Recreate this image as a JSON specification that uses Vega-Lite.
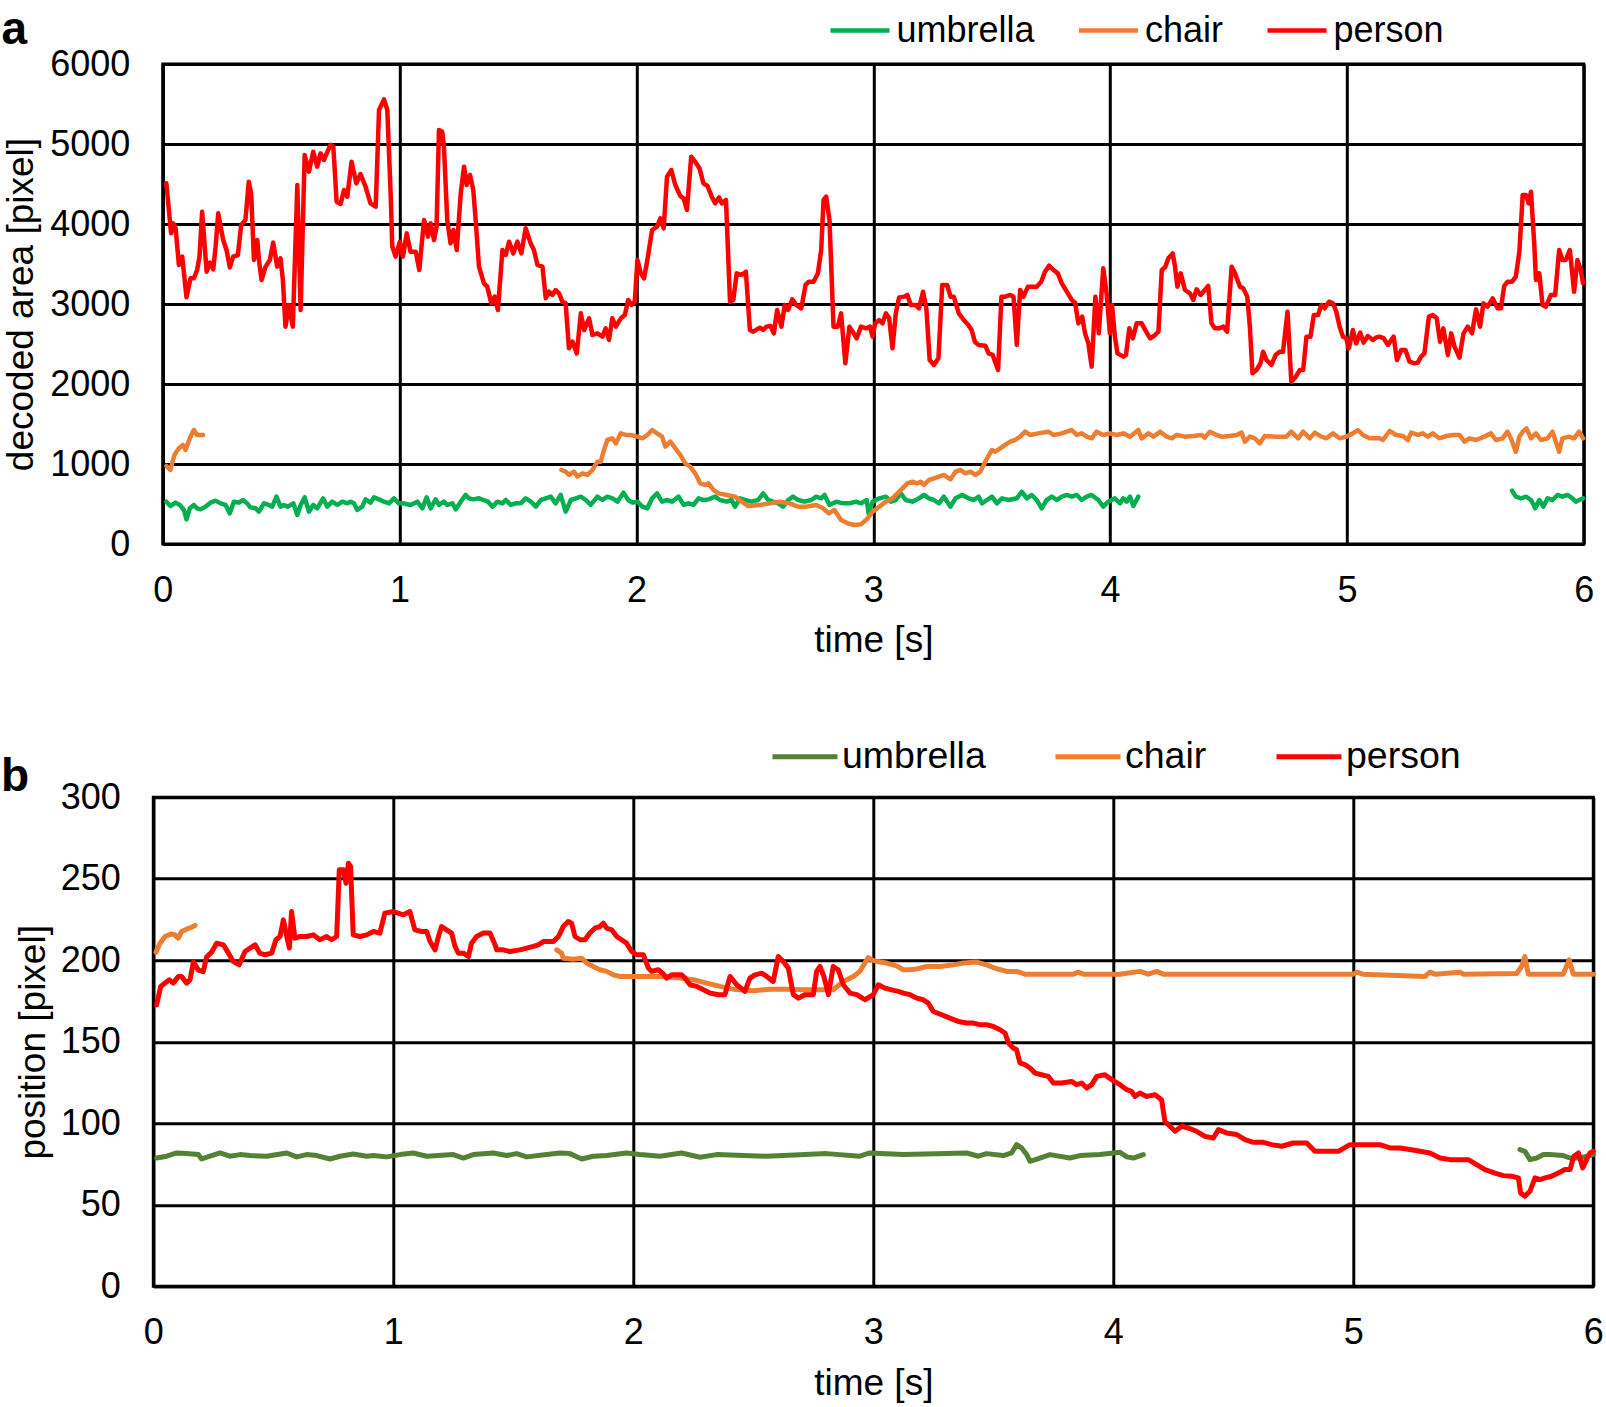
{
"$schema":"https://vega.github.io/schema/vega-lite/v6.json",
"autosize":"none",
"padding":{"left":153.3,"top":64,"right":1452.7,"bottom":1343},
"background":"white",
"config":{
"font":"Liberation Sans",
"view":{"stroke":"black","strokeWidth":3},
"axis":{"labelFont":"Liberation Sans","labelFontSize":36,"labelColor":"black","titleFont":"Liberation Sans","titleFontSize":37,"titleFontWeight":"normal","titleColor":"black","grid":true,"gridColor":"black","gridWidth":3,"gridOpacity":1,"domainColor":"black","domainWidth":3,"ticks":false,"labelFlush":false,"labelOverlap":false},
"legend":{"labelFont":"Liberation Sans","labelFontSize":36,"labelColor":"black","padding":0,"labelLimit":400},
"title":{"font":"Liberation Sans","color":"black"}
},
"datasets":{
"a":[
{"s":"umbrella","g":1,"t":0.015,"v":529},{"s":"umbrella","g":1,"t":0.032,"v":475},{"s":"umbrella","g":1,"t":0.054,"v":517},{"s":"umbrella","g":1,"t":0.072,"v":488},{"s":"umbrella","g":1,"t":0.089,"v":425},{"s":"umbrella","g":1,"t":0.1,"v":308},{"s":"umbrella","g":1,"t":0.114,"v":446},{"s":"umbrella","g":1,"t":0.131,"v":488},{"s":"umbrella","g":1,"t":0.145,"v":446},{"s":"umbrella","g":1,"t":0.159,"v":433},{"s":"umbrella","g":1,"t":0.18,"v":467},{"s":"umbrella","g":1,"t":0.201,"v":517},{"s":"umbrella","g":1,"t":0.223,"v":542},{"s":"umbrella","g":1,"t":0.244,"v":508},{"s":"umbrella","g":1,"t":0.265,"v":488},{"s":"umbrella","g":1,"t":0.283,"v":383},{"s":"umbrella","g":1,"t":0.3,"v":529},{"s":"umbrella","g":1,"t":0.321,"v":517},{"s":"umbrella","g":1,"t":0.339,"v":550},{"s":"umbrella","g":1,"t":0.356,"v":508},{"s":"umbrella","g":1,"t":0.37,"v":458},{"s":"umbrella","g":1,"t":0.392,"v":446},{"s":"umbrella","g":1,"t":0.406,"v":404},{"s":"umbrella","g":1,"t":0.427,"v":508},{"s":"umbrella","g":1,"t":0.448,"v":488},{"s":"umbrella","g":1,"t":0.462,"v":467},{"s":"umbrella","g":1,"t":0.48,"v":592},{"s":"umbrella","g":1,"t":0.497,"v":467},{"s":"umbrella","g":1,"t":0.511,"v":488},{"s":"umbrella","g":1,"t":0.528,"v":467},{"s":"umbrella","g":1,"t":0.551,"v":508},{"s":"umbrella","g":1,"t":0.568,"v":363},{"s":"umbrella","g":1,"t":0.582,"v":488},{"s":"umbrella","g":1,"t":0.599,"v":583},{"s":"umbrella","g":1,"t":0.617,"v":404},{"s":"umbrella","g":1,"t":0.635,"v":488},{"s":"umbrella","g":1,"t":0.652,"v":446},{"s":"umbrella","g":1,"t":0.677,"v":571},{"s":"umbrella","g":1,"t":0.694,"v":467},{"s":"umbrella","g":1,"t":0.715,"v":529},{"s":"umbrella","g":1,"t":0.737,"v":488},{"s":"umbrella","g":1,"t":0.758,"v":529},{"s":"umbrella","g":1,"t":0.779,"v":508},{"s":"umbrella","g":1,"t":0.793,"v":529},{"s":"umbrella","g":1,"t":0.807,"v":508},{"s":"umbrella","g":1,"t":0.821,"v":425},{"s":"umbrella","g":1,"t":0.842,"v":467},{"s":"umbrella","g":1,"t":0.856,"v":558},{"s":"umbrella","g":1,"t":0.877,"v":517},{"s":"umbrella","g":1,"t":0.892,"v":583},{"s":"umbrella","g":1,"t":0.913,"v":558},{"s":"umbrella","g":1,"t":0.934,"v":529},{"s":"umbrella","g":1,"t":0.955,"v":508},{"s":"umbrella","g":1,"t":0.976,"v":571},{"s":"umbrella","g":1,"t":0.997,"v":508},{"s":"umbrella","g":1,"t":1.018,"v":508},{"s":"umbrella","g":1,"t":1.046,"v":488},{"s":"umbrella","g":1,"t":1.075,"v":529},{"s":"umbrella","g":1,"t":1.096,"v":446},{"s":"umbrella","g":1,"t":1.114,"v":583},{"s":"umbrella","g":1,"t":1.131,"v":446},{"s":"umbrella","g":1,"t":1.152,"v":558},{"s":"umbrella","g":1,"t":1.166,"v":488},{"s":"umbrella","g":1,"t":1.187,"v":529},{"s":"umbrella","g":1,"t":1.201,"v":488},{"s":"umbrella","g":1,"t":1.223,"v":508},{"s":"umbrella","g":1,"t":1.237,"v":433},{"s":"umbrella","g":1,"t":1.258,"v":529},{"s":"umbrella","g":1,"t":1.279,"v":613},{"s":"umbrella","g":1,"t":1.293,"v":571},{"s":"umbrella","g":1,"t":1.311,"v":558},{"s":"umbrella","g":1,"t":1.335,"v":571},{"s":"umbrella","g":1,"t":1.354,"v":550},{"s":"umbrella","g":1,"t":1.373,"v":529},{"s":"umbrella","g":1,"t":1.392,"v":467},{"s":"umbrella","g":1,"t":1.413,"v":529},{"s":"umbrella","g":1,"t":1.434,"v":508},{"s":"umbrella","g":1,"t":1.448,"v":550},{"s":"umbrella","g":1,"t":1.469,"v":488},{"s":"umbrella","g":1,"t":1.49,"v":508},{"s":"umbrella","g":1,"t":1.511,"v":508},{"s":"umbrella","g":1,"t":1.532,"v":571},{"s":"umbrella","g":1,"t":1.554,"v":529},{"s":"umbrella","g":1,"t":1.575,"v":467},{"s":"umbrella","g":1,"t":1.596,"v":550},{"s":"umbrella","g":1,"t":1.617,"v":571},{"s":"umbrella","g":1,"t":1.638,"v":592},{"s":"umbrella","g":1,"t":1.659,"v":508},{"s":"umbrella","g":1,"t":1.68,"v":613},{"s":"umbrella","g":1,"t":1.701,"v":404},{"s":"umbrella","g":1,"t":1.723,"v":550},{"s":"umbrella","g":1,"t":1.744,"v":571},{"s":"umbrella","g":1,"t":1.765,"v":592},{"s":"umbrella","g":1,"t":1.786,"v":550},{"s":"umbrella","g":1,"t":1.807,"v":488},{"s":"umbrella","g":1,"t":1.835,"v":592},{"s":"umbrella","g":1,"t":1.856,"v":550},{"s":"umbrella","g":1,"t":1.877,"v":592},{"s":"umbrella","g":1,"t":1.899,"v":571},{"s":"umbrella","g":1,"t":1.92,"v":529},{"s":"umbrella","g":1,"t":1.945,"v":642},{"s":"umbrella","g":1,"t":1.965,"v":550},{"s":"umbrella","g":1,"t":1.983,"v":517},{"s":"umbrella","g":1,"t":2.004,"v":529},{"s":"umbrella","g":1,"t":2.025,"v":467},{"s":"umbrella","g":1,"t":2.046,"v":446},
{"s":"umbrella","g":1,"t":2.066,"v":571},{"s":"umbrella","g":1,"t":2.087,"v":633},{"s":"umbrella","g":1,"t":2.108,"v":529},{"s":"umbrella","g":1,"t":2.129,"v":550},{"s":"umbrella","g":1,"t":2.15,"v":529},{"s":"umbrella","g":1,"t":2.178,"v":592},{"s":"umbrella","g":1,"t":2.199,"v":488},{"s":"umbrella","g":1,"t":2.22,"v":508},{"s":"umbrella","g":1,"t":2.241,"v":488},{"s":"umbrella","g":1,"t":2.262,"v":571},{"s":"umbrella","g":1,"t":2.283,"v":550},{"s":"umbrella","g":1,"t":2.304,"v":558},{"s":"umbrella","g":1,"t":2.332,"v":592},{"s":"umbrella","g":1,"t":2.353,"v":550},{"s":"umbrella","g":1,"t":2.381,"v":529},{"s":"umbrella","g":1,"t":2.402,"v":550},{"s":"umbrella","g":1,"t":2.416,"v":467},{"s":"umbrella","g":1,"t":2.437,"v":571},{"s":"umbrella","g":1,"t":2.458,"v":550},{"s":"umbrella","g":1,"t":2.486,"v":529},{"s":"umbrella","g":1,"t":2.514,"v":550},{"s":"umbrella","g":1,"t":2.535,"v":633},{"s":"umbrella","g":1,"t":2.556,"v":550},{"s":"umbrella","g":1,"t":2.577,"v":529},{"s":"umbrella","g":1,"t":2.598,"v":508},{"s":"umbrella","g":1,"t":2.619,"v":467},{"s":"umbrella","g":1,"t":2.64,"v":550},{"s":"umbrella","g":1,"t":2.661,"v":592},{"s":"umbrella","g":1,"t":2.682,"v":550},{"s":"umbrella","g":1,"t":2.71,"v":529},{"s":"umbrella","g":1,"t":2.738,"v":550},{"s":"umbrella","g":1,"t":2.759,"v":592},{"s":"umbrella","g":1,"t":2.78,"v":571},{"s":"umbrella","g":1,"t":2.794,"v":613},{"s":"umbrella","g":1,"t":2.815,"v":488},{"s":"umbrella","g":1,"t":2.843,"v":529},{"s":"umbrella","g":1,"t":2.871,"v":508},{"s":"umbrella","g":1,"t":2.899,"v":508},{"s":"umbrella","g":1,"t":2.927,"v":529},{"s":"umbrella","g":1,"t":2.948,"v":508},{"s":"umbrella","g":1,"t":2.972,"v":550},{"s":"umbrella","g":1,"t":2.98,"v":383},{"s":"umbrella","g":1,"t":2.997,"v":529},{"s":"umbrella","g":1,"t":3.025,"v":571},{"s":"umbrella","g":1,"t":3.053,"v":592},{"s":"umbrella","g":1,"t":3.074,"v":529},{"s":"umbrella","g":1,"t":3.095,"v":550},{"s":"umbrella","g":1,"t":3.116,"v":633},{"s":"umbrella","g":1,"t":3.137,"v":550},{"s":"umbrella","g":1,"t":3.165,"v":529},{"s":"umbrella","g":1,"t":3.193,"v":571},{"s":"umbrella","g":1,"t":3.214,"v":613},{"s":"umbrella","g":1,"t":3.235,"v":571},{"s":"umbrella","g":1,"t":3.256,"v":550},{"s":"umbrella","g":1,"t":3.277,"v":508},{"s":"umbrella","g":1,"t":3.298,"v":592},{"s":"umbrella","g":1,"t":3.326,"v":467},{"s":"umbrella","g":1,"t":3.347,"v":571},{"s":"umbrella","g":1,"t":3.375,"v":613},{"s":"umbrella","g":1,"t":3.403,"v":571},{"s":"umbrella","g":1,"t":3.424,"v":550},{"s":"umbrella","g":1,"t":3.445,"v":592},{"s":"umbrella","g":1,"t":3.459,"v":508},{"s":"umbrella","g":1,"t":3.48,"v":550},{"s":"umbrella","g":1,"t":3.501,"v":592},{"s":"umbrella","g":1,"t":3.522,"v":508},{"s":"umbrella","g":1,"t":3.543,"v":571},{"s":"umbrella","g":1,"t":3.571,"v":550},{"s":"umbrella","g":1,"t":3.606,"v":571},{"s":"umbrella","g":1,"t":3.627,"v":654},{"s":"umbrella","g":1,"t":3.648,"v":571},{"s":"umbrella","g":1,"t":3.669,"v":613},{"s":"umbrella","g":1,"t":3.69,"v":550},{"s":"umbrella","g":1,"t":3.711,"v":446},{"s":"umbrella","g":1,"t":3.732,"v":550},{"s":"umbrella","g":1,"t":3.754,"v":592},{"s":"umbrella","g":1,"t":3.775,"v":550},{"s":"umbrella","g":1,"t":3.796,"v":592},{"s":"umbrella","g":1,"t":3.817,"v":613},{"s":"umbrella","g":1,"t":3.838,"v":592},{"s":"umbrella","g":1,"t":3.859,"v":613},{"s":"umbrella","g":1,"t":3.88,"v":550},{"s":"umbrella","g":1,"t":3.901,"v":592},{"s":"umbrella","g":1,"t":3.922,"v":613},{"s":"umbrella","g":1,"t":3.95,"v":550},{"s":"umbrella","g":1,"t":3.971,"v":467},{"s":"umbrella","g":1,"t":3.992,"v":529},{"s":"umbrella","g":1,"t":4.02,"v":571},{"s":"umbrella","g":1,"t":4.042,"v":508},{"s":"umbrella","g":1,"t":4.056,"v":571},{"s":"umbrella","g":1,"t":4.07,"v":529},{"s":"umbrella","g":1,"t":4.084,"v":592},{"s":"umbrella","g":1,"t":4.098,"v":475},{"s":"umbrella","g":1,"t":4.119,"v":592},
{"s":"umbrella","g":2,"t":5.697,"v":667},{"s":"umbrella","g":2,"t":5.713,"v":592},{"s":"umbrella","g":2,"t":5.735,"v":571},{"s":"umbrella","g":2,"t":5.756,"v":592},{"s":"umbrella","g":2,"t":5.777,"v":550},{"s":"umbrella","g":2,"t":5.795,"v":446},{"s":"umbrella","g":2,"t":5.812,"v":550},{"s":"umbrella","g":2,"t":5.829,"v":467},{"s":"umbrella","g":2,"t":5.847,"v":571},{"s":"umbrella","g":2,"t":5.868,"v":550},{"s":"umbrella","g":2,"t":5.889,"v":613},{"s":"umbrella","g":2,"t":5.91,"v":592},{"s":"umbrella","g":2,"t":5.931,"v":613},{"s":"umbrella","g":2,"t":5.952,"v":571},{"s":"umbrella","g":2,"t":5.966,"v":529},{"s":"umbrella","g":2,"t":5.98,"v":550},{"s":"umbrella","g":2,"t":5.997,"v":571},
{"s":"chair","g":1,"t":0.015,"v":975},{"s":"chair","g":1,"t":0.032,"v":925},{"s":"chair","g":1,"t":0.049,"v":1112},{"s":"chair","g":1,"t":0.068,"v":1196},{"s":"chair","g":1,"t":0.085,"v":1238},{"s":"chair","g":1,"t":0.096,"v":1175},{"s":"chair","g":1,"t":0.114,"v":1321},{"s":"chair","g":1,"t":0.131,"v":1425},{"s":"chair","g":1,"t":0.145,"v":1363},{"s":"chair","g":1,"t":0.17,"v":1363},
{"s":"chair","g":2,"t":1.683,"v":925},{"s":"chair","g":2,"t":1.701,"v":904},{"s":"chair","g":2,"t":1.715,"v":863},{"s":"chair","g":2,"t":1.736,"v":904},{"s":"chair","g":2,"t":1.751,"v":842},{"s":"chair","g":2,"t":1.772,"v":883},{"s":"chair","g":2,"t":1.793,"v":863},{"s":"chair","g":2,"t":1.814,"v":925},{"s":"chair","g":2,"t":1.835,"v":1029},{"s":"chair","g":2,"t":1.849,"v":1029},{"s":"chair","g":2,"t":1.863,"v":1175},{"s":"chair","g":2,"t":1.877,"v":1300},{"s":"chair","g":2,"t":1.898,"v":1321},{"s":"chair","g":2,"t":1.913,"v":1258},{"s":"chair","g":2,"t":1.934,"v":1383},{"s":"chair","g":2,"t":1.955,"v":1363},{"s":"chair","g":2,"t":1.976,"v":1363},{"s":"chair","g":2,"t":2.004,"v":1342},{"s":"chair","g":2,"t":2.025,"v":1321},{"s":"chair","g":2,"t":2.046,"v":1363},{"s":"chair","g":2,"t":2.066,"v":1425},{"s":"chair","g":2,"t":2.087,"v":1383},{"s":"chair","g":2,"t":2.108,"v":1342},{"s":"chair","g":2,"t":2.122,"v":1217},{"s":"chair","g":2,"t":2.143,"v":1279},{"s":"chair","g":2,"t":2.164,"v":1196},{"s":"chair","g":2,"t":2.185,"v":1113},{"s":"chair","g":2,"t":2.206,"v":1008},{"s":"chair","g":2,"t":2.227,"v":967},{"s":"chair","g":2,"t":2.248,"v":883},{"s":"chair","g":2,"t":2.269,"v":758},{"s":"chair","g":2,"t":2.29,"v":738},{"s":"chair","g":2,"t":2.304,"v":758},{"s":"chair","g":2,"t":2.325,"v":675},{"s":"chair","g":2,"t":2.346,"v":633},{"s":"chair","g":2,"t":2.381,"v":613},{"s":"chair","g":2,"t":2.416,"v":592},{"s":"chair","g":2,"t":2.444,"v":529},{"s":"chair","g":2,"t":2.472,"v":475},{"s":"chair","g":2,"t":2.521,"v":488},{"s":"chair","g":2,"t":2.563,"v":508},{"s":"chair","g":2,"t":2.605,"v":529},{"s":"chair","g":2,"t":2.647,"v":508},{"s":"chair","g":2,"t":2.682,"v":467},{"s":"chair","g":2,"t":2.717,"v":467},{"s":"chair","g":2,"t":2.759,"v":488},{"s":"chair","g":2,"t":2.787,"v":446},{"s":"chair","g":2,"t":2.812,"v":383},{"s":"chair","g":2,"t":2.836,"v":425},{"s":"chair","g":2,"t":2.864,"v":300},{"s":"chair","g":2,"t":2.892,"v":258},{"s":"chair","g":2,"t":2.92,"v":238},{"s":"chair","g":2,"t":2.948,"v":246},{"s":"chair","g":2,"t":2.976,"v":321},{"s":"chair","g":2,"t":2.997,"v":404},{"s":"chair","g":2,"t":3.025,"v":467},{"s":"chair","g":2,"t":3.053,"v":529},{"s":"chair","g":2,"t":3.081,"v":571},{"s":"chair","g":2,"t":3.102,"v":633},{"s":"chair","g":2,"t":3.123,"v":696},{"s":"chair","g":2,"t":3.144,"v":758},{"s":"chair","g":2,"t":3.165,"v":779},{"s":"chair","g":2,"t":3.186,"v":758},{"s":"chair","g":2,"t":3.2,"v":779},{"s":"chair","g":2,"t":3.214,"v":738},{"s":"chair","g":2,"t":3.235,"v":800},{"s":"chair","g":2,"t":3.256,"v":821},{"s":"chair","g":2,"t":3.277,"v":842},{"s":"chair","g":2,"t":3.298,"v":863},{"s":"chair","g":2,"t":3.326,"v":808},{"s":"chair","g":2,"t":3.347,"v":904},{"s":"chair","g":2,"t":3.368,"v":925},{"s":"chair","g":2,"t":3.389,"v":883},{"s":"chair","g":2,"t":3.41,"v":904},{"s":"chair","g":2,"t":3.431,"v":863},{"s":"chair","g":2,"t":3.452,"v":904},{"s":"chair","g":2,"t":3.466,"v":988},{"s":"chair","g":2,"t":3.48,"v":1071},{"s":"chair","g":2,"t":3.501,"v":1175},{"s":"chair","g":2,"t":3.515,"v":1154},{"s":"chair","g":2,"t":3.536,"v":1196},{"s":"chair","g":2,"t":3.557,"v":1238},{"s":"chair","g":2,"t":3.578,"v":1279},{"s":"chair","g":2,"t":3.599,"v":1300},{"s":"chair","g":2,"t":3.62,"v":1342},{"s":"chair","g":2,"t":3.641,"v":1404},{"s":"chair","g":2,"t":3.662,"v":1363},{"s":"chair","g":2,"t":3.697,"v":1383},{"s":"chair","g":2,"t":3.739,"v":1404},{"s":"chair","g":2,"t":3.761,"v":1363},{"s":"chair","g":2,"t":3.796,"v":1383},{"s":"chair","g":2,"t":3.817,"v":1404},{"s":"chair","g":2,"t":3.838,"v":1425},{"s":"chair","g":2,"t":3.859,"v":1363},{"s":"chair","g":2,"t":3.88,"v":1383},{"s":"chair","g":2,"t":3.901,"v":1342},{"s":"chair","g":2,"t":3.922,"v":1321},{"s":"chair","g":2,"t":3.943,"v":1404},{"s":"chair","g":2,"t":3.971,"v":1363},{"s":"chair","g":2,"t":3.999,"v":1383},{"s":"chair","g":2,"t":4.028,"v":1363},{"s":"chair","g":2,"t":4.056,"v":1383},{"s":"chair","g":2,"t":4.084,"v":1342},{"s":"chair","g":2,"t":4.119,"v":1425},{"s":"chair","g":2,"t":4.133,"v":1321},{"s":"chair","g":2,"t":4.162,"v":1383},{"s":"chair","g":2,"t":4.183,"v":1342},{"s":"chair","g":2,"t":4.211,"v":1404},{"s":"chair","g":2,"t":4.239,"v":1342},{"s":"chair","g":2,"t":4.26,"v":1321},{"s":"chair","g":2,"t":4.281,"v":1363},{"s":"chair","g":2,"t":4.316,"v":1342},{"s":"chair","g":2,"t":4.351,"v":1350},{"s":"chair","g":2,"t":4.386,"v":1363},{"s":"chair","g":2,"t":4.4,"v":1329},{"s":"chair","g":2,"t":4.421,"v":1404},{"s":"chair","g":2,"t":4.449,"v":1363},{"s":"chair","g":2,"t":4.471,"v":1342},{"s":"chair","g":2,"t":4.506,"v":1350},{"s":"chair","g":2,"t":4.534,"v":1363},{"s":"chair","g":2,"t":4.555,"v":1392},{"s":"chair","g":2,"t":4.569,"v":1279},{"s":"chair","g":2,"t":4.59,"v":1342},{"s":"chair","g":2,"t":4.611,"v":1321},{"s":"chair","g":2,"t":4.632,"v":1258},{"s":"chair","g":2,"t":4.653,"v":1350},{"s":"chair","g":2,"t":4.702,"v":1342},{"s":"chair","g":2,"t":4.744,"v":1342},{"s":"chair","g":2,"t":4.765,"v":1404},{"s":"chair","g":2,"t":4.794,"v":1321},{"s":"chair","g":2,"t":4.815,"v":1404},{"s":"chair","g":2,"t":4.843,"v":1321},{"s":"chair","g":2,"t":4.864,"v":1392},{"s":"chair","g":2,"t":4.892,"v":1342},{"s":"chair","g":2,"t":4.913,"v":1321},{"s":"chair","g":2,"t":4.941,"v":1383},{"s":"chair","g":2,"t":4.969,"v":1321},{"s":"chair","g":2,"t":4.997,"v":1342},{"s":"chair","g":2,"t":5.025,"v":1383},{"s":"chair","g":2,"t":5.046,"v":1425},{"s":"chair","g":2,"t":5.067,"v":1363},{"s":"chair","g":2,"t":5.096,"v":1321},{"s":"chair","g":2,"t":5.138,"v":1321},{"s":"chair","g":2,"t":5.152,"v":1300},{"s":"chair","g":2,"t":5.18,"v":1413},{"s":"chair","g":2,"t":5.208,"v":1363},{"s":"chair","g":2,"t":5.236,"v":1350},{"s":"chair","g":2,"t":5.257,"v":1300},{"s":"chair","g":2,"t":5.271,"v":1392},{"s":"chair","g":2,"t":5.299,"v":1363},{"s":"chair","g":2,"t":5.32,"v":1383},{"s":"chair","g":2,"t":5.341,"v":1342},{"s":"chair","g":2,"t":5.362,"v":1383},{"s":"chair","g":2,"t":5.39,"v":1321},{"s":"chair","g":2,"t":5.419,"v":1350},{"s":"chair","g":2,"t":5.447,"v":1363},{"s":"chair","g":2,"t":5.475,"v":1363},{"s":"chair","g":2,"t":5.496,"v":1279},{"s":"chair","g":2,"t":5.517,"v":1321},{"s":"chair","g":2,"t":5.545,"v":1300},{"s":"chair","g":2,"t":5.58,"v":1342},{"s":"chair","g":2,"t":5.608,"v":1383},{"s":"chair","g":2,"t":5.629,"v":1300},{"s":"chair","g":2,"t":5.657,"v":1321},{"s":"chair","g":2,"t":5.678,"v":1404},{"s":"chair","g":2,"t":5.692,"v":1321},{"s":"chair","g":2,"t":5.713,"v":1154},{"s":"chair","g":2,"t":5.728,"v":1342},{"s":"chair","g":2,"t":5.742,"v":1404},{"s":"chair","g":2,"t":5.758,"v":1446},{"s":"chair","g":2,"t":5.777,"v":1321},{"s":"chair","g":2,"t":5.798,"v":1383},{"s":"chair","g":2,"t":5.819,"v":1300},{"s":"chair","g":2,"t":5.847,"v":1321},{"s":"chair","g":2,"t":5.868,"v":1404},{"s":"chair","g":2,"t":5.896,"v":1154},{"s":"chair","g":2,"t":5.91,"v":1321},{"s":"chair","g":2,"t":5.938,"v":1342},{"s":"chair","g":2,"t":5.959,"v":1321},{"s":"chair","g":2,"t":5.98,"v":1404},{"s":"chair","g":2,"t":5.997,"v":1321},
{"s":"person","g":1,"t":0.015,"v":4508},{"s":"person","g":1,"t":0.035,"v":3883},{"s":"person","g":1,"t":0.044,"v":4008},{"s":"person","g":1,"t":0.054,"v":3946},{"s":"person","g":1,"t":0.068,"v":3487},{"s":"person","g":1,"t":0.082,"v":3592},{"s":"person","g":1,"t":0.1,"v":3083},{"s":"person","g":1,"t":0.117,"v":3321},{"s":"person","g":1,"t":0.131,"v":3321},{"s":"person","g":1,"t":0.145,"v":3425},{"s":"person","g":1,"t":0.155,"v":3592},{"s":"person","g":1,"t":0.166,"v":4154},{"s":"person","g":1,"t":0.185,"v":3404},{"s":"person","g":1,"t":0.199,"v":3517},{"s":"person","g":1,"t":0.213,"v":3433},{"s":"person","g":1,"t":0.223,"v":3717},{"s":"person","g":1,"t":0.234,"v":4133},{"s":"person","g":1,"t":0.244,"v":3967},{"s":"person","g":1,"t":0.255,"v":3800},{"s":"person","g":1,"t":0.269,"v":3675},{"s":"person","g":1,"t":0.283,"v":3458},{"s":"person","g":1,"t":0.297,"v":3592},{"s":"person","g":1,"t":0.317,"v":3612},{"s":"person","g":1,"t":0.331,"v":3988},{"s":"person","g":1,"t":0.349,"v":4050},{"s":"person","g":1,"t":0.363,"v":4529},{"s":"person","g":1,"t":0.373,"v":4383},{"s":"person","g":1,"t":0.385,"v":3550},{"s":"person","g":1,"t":0.399,"v":3800},{"s":"person","g":1,"t":0.406,"v":3550},{"s":"person","g":1,"t":0.417,"v":3300},{"s":"person","g":1,"t":0.434,"v":3467},{"s":"person","g":1,"t":0.452,"v":3550},{"s":"person","g":1,"t":0.466,"v":3767},{"s":"person","g":1,"t":0.483,"v":3467},{"s":"person","g":1,"t":0.497,"v":3571},{"s":"person","g":1,"t":0.507,"v":3300},{"s":"person","g":1,"t":0.518,"v":2717},{"s":"person","g":1,"t":0.532,"v":2987},{"s":"person","g":1,"t":0.549,"v":2717},{"s":"person","g":1,"t":0.568,"v":4488},{"s":"person","g":1,"t":0.582,"v":2925},{"s":"person","g":1,"t":0.599,"v":4863},{"s":"person","g":1,"t":0.617,"v":4654},{"s":"person","g":1,"t":0.635,"v":4904},{"s":"person","g":1,"t":0.652,"v":4717},{"s":"person","g":1,"t":0.666,"v":4883},{"s":"person","g":1,"t":0.68,"v":4800},{"s":"person","g":1,"t":0.708,"v":4988},{"s":"person","g":1,"t":0.72,"v":4967},{"s":"person","g":1,"t":0.734,"v":4279},{"s":"person","g":1,"t":0.751,"v":4250},{"s":"person","g":1,"t":0.765,"v":4425},{"s":"person","g":1,"t":0.779,"v":4342},{"s":"person","g":1,"t":0.797,"v":4779},{"s":"person","g":1,"t":0.817,"v":4508},{"s":"person","g":1,"t":0.835,"v":4625},{"s":"person","g":1,"t":0.856,"v":4467},{"s":"person","g":1,"t":0.877,"v":4258},{"s":"person","g":1,"t":0.899,"v":4217},{"s":"person","g":1,"t":0.913,"v":5425},{"s":"person","g":1,"t":0.934,"v":5558},{"s":"person","g":1,"t":0.948,"v":5425},{"s":"person","g":1,"t":0.962,"v":4383},{"s":"person","g":1,"t":0.969,"v":3717},{"s":"person","g":1,"t":0.983,"v":3592},{"s":"person","g":1,"t":1.001,"v":3779},{"s":"person","g":1,"t":1.014,"v":3592},{"s":"person","g":1,"t":1.03,"v":3883},{"s":"person","g":1,"t":1.046,"v":3654},{"s":"person","g":1,"t":1.068,"v":3654},{"s":"person","g":1,"t":1.083,"v":3425},{"s":"person","g":1,"t":1.103,"v":4050},{"s":"person","g":1,"t":1.12,"v":3842},{"s":"person","g":1,"t":1.131,"v":4008},{"s":"person","g":1,"t":1.145,"v":3800},{"s":"person","g":1,"t":1.156,"v":3967},{"s":"person","g":1,"t":1.166,"v":5175},{"s":"person","g":1,"t":1.18,"v":5154},{"s":"person","g":1,"t":1.187,"v":4967},{"s":"person","g":1,"t":1.201,"v":4050},{"s":"person","g":1,"t":1.215,"v":3758},{"s":"person","g":1,"t":1.227,"v":3925},{"s":"person","g":1,"t":1.241,"v":3675},{"s":"person","g":1,"t":1.258,"v":4383},{"s":"person","g":1,"t":1.272,"v":4717},{"s":"person","g":1,"t":1.283,"v":4488},{"s":"person","g":1,"t":1.297,"v":4613},{"s":"person","g":1,"t":1.311,"v":4425},{"s":"person","g":1,"t":1.321,"v":4050},{"s":"person","g":1,"t":1.335,"v":3467},{"s":"person","g":1,"t":1.356,"v":3258},{"s":"person","g":1,"t":1.37,"v":3217},{"s":"person","g":1,"t":1.387,"v":3008},{"s":"person","g":1,"t":1.401,"v":3092},{"s":"person","g":1,"t":1.415,"v":2925},{"s":"person","g":1,"t":1.434,"v":3675},{"s":"person","g":1,"t":1.448,"v":3612},{"s":"person","g":1,"t":1.462,"v":3779},{"s":"person","g":1,"t":1.48,"v":3633},{"s":"person","g":1,"t":1.497,"v":3779},{"s":"person","g":1,"t":1.514,"v":3633},{"s":"person","g":1,"t":1.532,"v":3946},{"s":"person","g":1,"t":1.553,"v":3758},{"s":"person","g":1,"t":1.567,"v":3675},{"s":"person","g":1,"t":1.582,"v":3488},{"s":"person","g":1,"t":1.603,"v":3467},{"s":"person","g":1,"t":1.617,"v":3071},{"s":"person","g":1,"t":1.631,"v":3154},{"s":"person","g":1,"t":1.645,"v":3113},{"s":"person","g":1,"t":1.659,"v":3175},{"s":"person","g":1,"t":1.673,"v":3133},{"s":"person","g":1,"t":1.687,"v":3029},{"s":"person","g":1,"t":1.701,"v":3008},{"s":"person","g":1,"t":1.715,"v":2446},{"s":"person","g":1,"t":1.73,"v":2529},{"s":"person","g":1,"t":1.748,"v":2383},{"s":"person","g":1,"t":1.765,"v":2883},{"s":"person","g":1,"t":1.779,"v":2675},{"s":"person","g":1,"t":1.8,"v":2821},{"s":"person","g":1,"t":1.814,"v":2613},{"s":"person","g":1,"t":1.835,"v":2633},{"s":"person","g":1,"t":1.856,"v":2592},{"s":"person","g":1,"t":1.87,"v":2696},{"s":"person","g":1,"t":1.884,"v":2550},{"s":"person","g":1,"t":1.898,"v":2821},{"s":"person","g":1,"t":1.913,"v":2717},{"s":"person","g":1,"t":1.934,"v":2821},{"s":"person","g":1,"t":1.951,"v":2863},{"s":"person","g":1,"t":1.965,"v":3050},{"s":"person","g":1,"t":1.979,"v":2988},{"s":"person","g":1,"t":1.993,"v":3029},{"s":"person","g":1,"t":2.004,"v":3550},{"s":"person","g":1,"t":2.018,"v":3383},{"s":"person","g":1,"t":2.032,"v":3321},{"s":"person","g":1,"t":2.046,"v":3550},{"s":"person","g":1,"t":2.066,"v":3925},{"s":"person","g":1,"t":2.087,"v":3967},{"s":"person","g":1,"t":2.101,"v":4071},{"s":"person","g":1,"t":2.115,"v":3946},{"s":"person","g":1,"t":2.129,"v":4592},{"s":"person","g":1,"t":2.147,"v":4675},{"s":"person","g":1,"t":2.164,"v":4488},{"s":"person","g":1,"t":2.185,"v":4350},{"s":"person","g":1,"t":2.199,"v":4321},{"s":"person","g":1,"t":2.213,"v":4175},{"s":"person","g":1,"t":2.231,"v":4842},{"s":"person","g":1,"t":2.248,"v":4779},{"s":"person","g":1,"t":2.266,"v":4696},{"s":"person","g":1,"t":2.283,"v":4508},{"s":"person","g":1,"t":2.3,"v":4475},{"s":"person","g":1,"t":2.318,"v":4342},{"s":"person","g":1,"t":2.332,"v":4258},{"s":"person","g":1,"t":2.349,"v":4333},{"s":"person","g":1,"t":2.36,"v":4258},{"s":"person","g":1,"t":2.378,"v":4300},{"s":"person","g":1,"t":2.395,"v":3029},{"s":"person","g":1,"t":2.409,"v":3050},{"s":"person","g":1,"t":2.423,"v":3383},{"s":"person","g":1,"t":2.444,"v":3363},{"s":"person","g":1,"t":2.462,"v":3404},{"s":"person","g":1,"t":2.479,"v":2675},{"s":"person","g":1,"t":2.493,"v":2654},{"s":"person","g":1,"t":2.521,"v":2704},{"s":"person","g":1,"t":2.535,"v":2675},{"s":"person","g":1,"t":2.549,"v":2717},{"s":"person","g":1,"t":2.566,"v":2725},{"s":"person","g":1,"t":2.58,"v":2633},{"s":"person","g":1,"t":2.594,"v":2925},{"s":"person","g":1,"t":2.612,"v":2717},{"s":"person","g":1,"t":2.626,"v":2988},{"s":"person","g":1,"t":2.64,"v":2925},{"s":"person","g":1,"t":2.658,"v":3058},{"s":"person","g":1,"t":2.675,"v":2988},{"s":"person","g":1,"t":2.696,"v":2946},{"s":"person","g":1,"t":2.714,"v":3238},{"s":"person","g":1,"t":2.728,"v":3279},{"s":"person","g":1,"t":2.748,"v":3279},{"s":"person","g":1,"t":2.766,"v":3383},{"s":"person","g":1,"t":2.78,"v":3675},{"s":"person","g":1,"t":2.79,"v":4300},{"s":"person","g":1,"t":2.801,"v":4342},{"s":"person","g":1,"t":2.815,"v":4050},{"s":"person","g":1,"t":2.832,"v":2717},{"s":"person","g":1,"t":2.85,"v":2717},{"s":"person","g":1,"t":2.864,"v":2883},{"s":"person","g":1,"t":2.882,"v":2258},{"s":"person","g":1,"t":2.899,"v":2717},{"s":"person","g":1,"t":2.913,"v":2654},{"s":"person","g":1,"t":2.93,"v":2571},{"s":"person","g":1,"t":2.948,"v":2717},{"s":"person","g":1,"t":2.969,"v":2696},{"s":"person","g":1,"t":2.986,"v":2717},{"s":"person","g":1,"t":2.997,"v":2592},{"s":"person","g":1,"t":3.008,"v":2758},{"s":"person","g":1,"t":3.025,"v":2800},{"s":"person","g":1,"t":3.039,"v":2758},{"s":"person","g":1,"t":3.053,"v":2883},{"s":"person","g":1,"t":3.067,"v":2821},{"s":"person","g":1,"t":3.081,"v":2446},{"s":"person","g":1,"t":3.095,"v":2883},{"s":"person","g":1,"t":3.109,"v":3083},{"s":"person","g":1,"t":3.13,"v":3092},{"s":"person","g":1,"t":3.144,"v":3113},{"s":"person","g":1,"t":3.158,"v":2988},{"s":"person","g":1,"t":3.179,"v":2988},{"s":"person","g":1,"t":3.193,"v":2946},{"s":"person","g":1,"t":3.21,"v":3154},{"s":"person","g":1,"t":3.224,"v":2946},{"s":"person","g":1,"t":3.238,"v":2300},{"s":"person","g":1,"t":3.256,"v":2238},{"s":"person","g":1,"t":3.275,"v":2321},{"s":"person","g":1,"t":3.291,"v":3238},{"s":"person","g":1,"t":3.312,"v":3238},{"s":"person","g":1,"t":3.326,"v":3092},{"s":"person","g":1,"t":3.34,"v":3092},{"s":"person","g":1,"t":3.361,"v":2883},{"s":"person","g":1,"t":3.382,"v":2800},{"s":"person","g":1,"t":3.401,"v":2738},{"s":"person","g":1,"t":3.415,"v":2675},{"s":"person","g":1,"t":3.429,"v":2529},{"s":"person","g":1,"t":3.445,"v":2488},{"s":"person","g":1,"t":3.473,"v":2479},{"s":"person","g":1,"t":3.487,"v":2383},{"s":"person","g":1,"t":3.504,"v":2363},{"s":"person","g":1,"t":3.527,"v":2175},{"s":"person","g":1,"t":3.541,"v":3092},{"s":"person","g":1,"t":3.557,"v":3092},{"s":"person","g":1,"t":3.578,"v":3113},{"s":"person","g":1,"t":3.592,"v":3092},{"s":"person","g":1,"t":3.606,"v":2488},{"s":"person","g":1,"t":3.62,"v":3175},{"s":"person","g":1,"t":3.634,"v":3092},{"s":"person","g":1,"t":3.653,"v":3217},{"s":"person","g":1,"t":3.669,"v":3217},{"s":"person","g":1,"t":3.69,"v":3217},{"s":"person","g":1,"t":3.709,"v":3279},{"s":"person","g":1,"t":3.725,"v":3404},{"s":"person","g":1,"t":3.742,"v":3479},{"s":"person","g":1,"t":3.761,"v":3425},{"s":"person","g":1,"t":3.779,"v":3383},{"s":"person","g":1,"t":3.796,"v":3258},{"s":"person","g":1,"t":3.817,"v":3154},{"s":"person","g":1,"t":3.838,"v":3050},{"s":"person","g":1,"t":3.852,"v":3017},{"s":"person","g":1,"t":3.866,"v":2758},{"s":"person","g":1,"t":3.882,"v":2842},{"s":"person","g":1,"t":3.894,"v":2633},{"s":"person","g":1,"t":3.908,"v":2508},{"s":"person","g":1,"t":3.922,"v":2217},{"s":"person","g":1,"t":3.938,"v":3092},{"s":"person","g":1,"t":3.952,"v":2633},{"s":"person","g":1,"t":3.971,"v":3446},{"s":"person","g":1,"t":3.985,"v":3133},{"s":"person","g":1,"t":3.999,"v":2633},{"s":"person","g":1,"t":4.008,"v":2988},{"s":"person","g":1,"t":4.02,"v":2592},{"s":"person","g":1,"t":4.031,"v":2383},{"s":"person","g":1,"t":4.056,"v":2342},{"s":"person","g":1,"t":4.067,"v":2363},{"s":"person","g":1,"t":4.081,"v":2696},{"s":"person","g":1,"t":4.096,"v":2571},{"s":"person","g":1,"t":4.112,"v":2758},{"s":"person","g":1,"t":4.133,"v":2758},{"s":"person","g":1,"t":4.152,"v":2654},{"s":"person","g":1,"t":4.169,"v":2571},{"s":"person","g":1,"t":4.185,"v":2600},{"s":"person","g":1,"t":4.204,"v":2654},{"s":"person","g":1,"t":4.218,"v":3425},{"s":"person","g":1,"t":4.232,"v":3458},{"s":"person","g":1,"t":4.246,"v":3571},{"s":"person","g":1,"t":4.264,"v":3633},{"s":"person","g":1,"t":4.274,"v":3467},{"s":"person","g":1,"t":4.284,"v":3217},{"s":"person","g":1,"t":4.298,"v":3383},{"s":"person","g":1,"t":4.316,"v":3175},{"s":"person","g":1,"t":4.337,"v":3133},{"s":"person","g":1,"t":4.351,"v":3050},{"s":"person","g":1,"t":4.365,"v":3183},{"s":"person","g":1,"t":4.382,"v":3113},{"s":"person","g":1,"t":4.4,"v":3175},{"s":"person","g":1,"t":4.414,"v":3225},{"s":"person","g":1,"t":4.428,"v":2758},{"s":"person","g":1,"t":4.442,"v":2696},{"s":"person","g":1,"t":4.463,"v":2696},{"s":"person","g":1,"t":4.478,"v":2717},{"s":"person","g":1,"t":4.494,"v":2654},{"s":"person","g":1,"t":4.513,"v":3467},{"s":"person","g":1,"t":4.527,"v":3383},{"s":"person","g":1,"t":4.548,"v":3217},{"s":"person","g":1,"t":4.562,"v":3196},{"s":"person","g":1,"t":4.579,"v":3092},{"s":"person","g":1,"t":4.59,"v":2717},{"s":"person","g":1,"t":4.601,"v":2133},{"s":"person","g":1,"t":4.618,"v":2175},{"s":"person","g":1,"t":4.635,"v":2258},{"s":"person","g":1,"t":4.646,"v":2404},{"s":"person","g":1,"t":4.66,"v":2300},{"s":"person","g":1,"t":4.681,"v":2238},{"s":"person","g":1,"t":4.699,"v":2363},{"s":"person","g":1,"t":4.716,"v":2404},{"s":"person","g":1,"t":4.73,"v":2404},{"s":"person","g":1,"t":4.749,"v":2904},{"s":"person","g":1,"t":4.765,"v":2029},{"s":"person","g":1,"t":4.784,"v":2092},{"s":"person","g":1,"t":4.801,"v":2175},{"s":"person","g":1,"t":4.815,"v":2175},{"s":"person","g":1,"t":4.829,"v":2592},{"s":"person","g":1,"t":4.846,"v":2592},{"s":"person","g":1,"t":4.86,"v":2863},{"s":"person","g":1,"t":4.878,"v":2863},{"s":"person","g":1,"t":4.892,"v":2988},{"s":"person","g":1,"t":4.906,"v":2946},{"s":"person","g":1,"t":4.924,"v":3029},{"s":"person","g":1,"t":4.941,"v":3008},{"s":"person","g":1,"t":4.955,"v":2904},{"s":"person","g":1,"t":4.969,"v":2717},{"s":"person","g":1,"t":4.983,"v":2592},{"s":"person","g":1,"t":4.997,"v":2571},{"s":"person","g":1,"t":5.008,"v":2446},{"s":"person","g":1,"t":5.025,"v":2675},{"s":"person","g":1,"t":5.039,"v":2508},{"s":"person","g":1,"t":5.056,"v":2642},{"s":"person","g":1,"t":5.07,"v":2517},{"s":"person","g":1,"t":5.088,"v":2600},{"s":"person","g":1,"t":5.11,"v":2550},{"s":"person","g":1,"t":5.124,"v":2583},{"s":"person","g":1,"t":5.138,"v":2592},{"s":"person","g":1,"t":5.155,"v":2571},{"s":"person","g":1,"t":5.173,"v":2488},{"s":"person","g":1,"t":5.187,"v":2550},{"s":"person","g":1,"t":5.197,"v":2592},{"s":"person","g":1,"t":5.211,"v":2300},{"s":"person","g":1,"t":5.229,"v":2425},{"s":"person","g":1,"t":5.247,"v":2425},{"s":"person","g":1,"t":5.264,"v":2279},{"s":"person","g":1,"t":5.285,"v":2258},{"s":"person","g":1,"t":5.299,"v":2267},{"s":"person","g":1,"t":5.313,"v":2342},{"s":"person","g":1,"t":5.327,"v":2383},{"s":"person","g":1,"t":5.346,"v":2842},{"s":"person","g":1,"t":5.362,"v":2863},{"s":"person","g":1,"t":5.379,"v":2821},{"s":"person","g":1,"t":5.393,"v":2529},{"s":"person","g":1,"t":5.407,"v":2696},{"s":"person","g":1,"t":5.426,"v":2363},{"s":"person","g":1,"t":5.44,"v":2633},{"s":"person","g":1,"t":5.454,"v":2467},{"s":"person","g":1,"t":5.475,"v":2329},{"s":"person","g":1,"t":5.492,"v":2633},{"s":"person","g":1,"t":5.51,"v":2717},{"s":"person","g":1,"t":5.528,"v":2633},{"s":"person","g":1,"t":5.545,"v":2933},{"s":"person","g":1,"t":5.562,"v":2717},{"s":"person","g":1,"t":5.576,"v":3008},{"s":"person","g":1,"t":5.594,"v":2967},{"s":"person","g":1,"t":5.615,"v":3071},{"s":"person","g":1,"t":5.636,"v":2946},{"s":"person","g":1,"t":5.65,"v":2946},{"s":"person","g":1,"t":5.664,"v":3225},{"s":"person","g":1,"t":5.678,"v":3279},{"s":"person","g":1,"t":5.697,"v":3279},{"s":"person","g":1,"t":5.713,"v":3342},{"s":"person","g":1,"t":5.728,"v":3654},{"s":"person","g":1,"t":5.742,"v":4363},{"s":"person","g":1,"t":5.756,"v":4363},{"s":"person","g":1,"t":5.767,"v":4258},{"s":"person","g":1,"t":5.777,"v":4404},{"s":"person","g":1,"t":5.791,"v":3738},{"s":"person","g":1,"t":5.798,"v":3300},{"s":"person","g":1,"t":5.812,"v":3383},{"s":"person","g":1,"t":5.826,"v":2988},{"s":"person","g":1,"t":5.84,"v":2967},{"s":"person","g":1,"t":5.861,"v":3113},{"s":"person","g":1,"t":5.879,"v":3113},{"s":"person","g":1,"t":5.896,"v":3675},{"s":"person","g":1,"t":5.91,"v":3550},{"s":"person","g":1,"t":5.924,"v":3550},{"s":"person","g":1,"t":5.941,"v":3675},{"s":"person","g":1,"t":5.959,"v":3154},{"s":"person","g":1,"t":5.973,"v":3550},{"s":"person","g":1,"t":5.987,"v":3425},{"s":"person","g":1,"t":5.997,"v":3258}
],
"b":[
{"s":"umbrella","g":1,"t":0.014,"v":78.7},{"s":"umbrella","g":1,"t":0.056,"v":79.8},{"s":"umbrella","g":1,"t":0.097,"v":81.8},{"s":"umbrella","g":1,"t":0.139,"v":81.4},{"s":"umbrella","g":1,"t":0.188,"v":80.8},{"s":"umbrella","g":1,"t":0.201,"v":78.1},{"s":"umbrella","g":1,"t":0.278,"v":81.8},{"s":"umbrella","g":1,"t":0.319,"v":79.8},{"s":"umbrella","g":1,"t":0.361,"v":80.8},{"s":"umbrella","g":1,"t":0.403,"v":80.2},{"s":"umbrella","g":1,"t":0.472,"v":79.8},{"s":"umbrella","g":1,"t":0.556,"v":81.8},{"s":"umbrella","g":1,"t":0.597,"v":79.4},{"s":"umbrella","g":1,"t":0.639,"v":80.8},{"s":"umbrella","g":1,"t":0.681,"v":80.2},{"s":"umbrella","g":1,"t":0.736,"v":78.1},{"s":"umbrella","g":1,"t":0.778,"v":79.8},{"s":"umbrella","g":1,"t":0.833,"v":81.2},{"s":"umbrella","g":1,"t":0.889,"v":79.8},{"s":"umbrella","g":1,"t":0.917,"v":80.2},{"s":"umbrella","g":1,"t":0.972,"v":79.4},{"s":"umbrella","g":1,"t":1.028,"v":80.8},{"s":"umbrella","g":1,"t":1.083,"v":81.8},{"s":"umbrella","g":1,"t":1.139,"v":79.8},{"s":"umbrella","g":1,"t":1.25,"v":80.8},{"s":"umbrella","g":1,"t":1.292,"v":78.7},{"s":"umbrella","g":1,"t":1.333,"v":80.8},{"s":"umbrella","g":1,"t":1.417,"v":81.8},{"s":"umbrella","g":1,"t":1.472,"v":80.2},{"s":"umbrella","g":1,"t":1.514,"v":81.4},{"s":"umbrella","g":1,"t":1.556,"v":79.4},{"s":"umbrella","g":1,"t":1.639,"v":80.8},{"s":"umbrella","g":1,"t":1.694,"v":81.8},{"s":"umbrella","g":1,"t":1.736,"v":81.4},{"s":"umbrella","g":1,"t":1.785,"v":78.1},{"s":"umbrella","g":1,"t":1.833,"v":79.8},{"s":"umbrella","g":1,"t":1.889,"v":80.2},{"s":"umbrella","g":1,"t":1.972,"v":81.8},{"s":"umbrella","g":1,"t":2.028,"v":80.8},{"s":"umbrella","g":1,"t":2.111,"v":79.8},{"s":"umbrella","g":1,"t":2.201,"v":81.8},{"s":"umbrella","g":1,"t":2.278,"v":79.2},{"s":"umbrella","g":1,"t":2.347,"v":80.8},{"s":"umbrella","g":1,"t":2.556,"v":79.8},{"s":"umbrella","g":1,"t":2.806,"v":81.4},{"s":"umbrella","g":1,"t":2.944,"v":79.8},{"s":"umbrella","g":1,"t":2.986,"v":81.8},{"s":"umbrella","g":1,"t":3.125,"v":80.8},{"s":"umbrella","g":1,"t":3.306,"v":81.4},{"s":"umbrella","g":1,"t":3.389,"v":81.8},{"s":"umbrella","g":1,"t":3.438,"v":79.8},{"s":"umbrella","g":1,"t":3.472,"v":81.4},{"s":"umbrella","g":1,"t":3.542,"v":80.2},{"s":"umbrella","g":1,"t":3.576,"v":81.8},{"s":"umbrella","g":1,"t":3.597,"v":86.9},{"s":"umbrella","g":1,"t":3.618,"v":84.9},{"s":"umbrella","g":1,"t":3.639,"v":80.8},{"s":"umbrella","g":1,"t":3.653,"v":76.7},{"s":"umbrella","g":1,"t":3.694,"v":78.7},{"s":"umbrella","g":1,"t":3.736,"v":80.8},{"s":"umbrella","g":1,"t":3.819,"v":78.7},{"s":"umbrella","g":1,"t":3.861,"v":80.2},{"s":"umbrella","g":1,"t":3.944,"v":80.8},{"s":"umbrella","g":1,"t":4.028,"v":82.2},{"s":"umbrella","g":1,"t":4.056,"v":79.4},{"s":"umbrella","g":1,"t":4.083,"v":78.7},{"s":"umbrella","g":1,"t":4.125,"v":80.8},
{"s":"umbrella","g":2,"t":5.694,"v":83.9},{"s":"umbrella","g":2,"t":5.715,"v":82.8},{"s":"umbrella","g":2,"t":5.736,"v":77.7},{"s":"umbrella","g":2,"t":5.764,"v":78.7},{"s":"umbrella","g":2,"t":5.792,"v":80.8},{"s":"umbrella","g":2,"t":5.819,"v":80.8},{"s":"umbrella","g":2,"t":5.875,"v":80.2},{"s":"umbrella","g":2,"t":5.903,"v":78.7},{"s":"umbrella","g":2,"t":5.944,"v":78.7},{"s":"umbrella","g":2,"t":6.0,"v":80.8},
{"s":"chair","g":1,"t":0.011,"v":205},{"s":"chair","g":1,"t":0.028,"v":210.5},{"s":"chair","g":1,"t":0.049,"v":214.6},{"s":"chair","g":1,"t":0.076,"v":216.2},{"s":"chair","g":1,"t":0.09,"v":215.6},{"s":"chair","g":1,"t":0.104,"v":213.6},{"s":"chair","g":1,"t":0.118,"v":217.7},{"s":"chair","g":1,"t":0.139,"v":219.1},{"s":"chair","g":1,"t":0.16,"v":220.3},{"s":"chair","g":1,"t":0.174,"v":221.4},
{"s":"chair","g":2,"t":1.681,"v":206.4},{"s":"chair","g":2,"t":1.701,"v":204.4},{"s":"chair","g":2,"t":1.708,"v":201.3},{"s":"chair","g":2,"t":1.75,"v":200.7},{"s":"chair","g":2,"t":1.785,"v":201.3},{"s":"chair","g":2,"t":1.806,"v":198.3},{"s":"chair","g":2,"t":1.833,"v":196.2},{"s":"chair","g":2,"t":1.861,"v":194.2},{"s":"chair","g":2,"t":1.889,"v":193.2},{"s":"chair","g":2,"t":1.917,"v":191.1},{"s":"chair","g":2,"t":1.944,"v":190.1},{"s":"chair","g":2,"t":1.986,"v":190.1},{"s":"chair","g":2,"t":2.028,"v":190.1},{"s":"chair","g":2,"t":2.125,"v":190.1},{"s":"chair","g":2,"t":2.194,"v":189.1},{"s":"chair","g":2,"t":2.25,"v":188.1},{"s":"chair","g":2,"t":2.306,"v":186},{"s":"chair","g":2,"t":2.361,"v":184},{"s":"chair","g":2,"t":2.417,"v":182.3},{"s":"chair","g":2,"t":2.5,"v":181.3},{"s":"chair","g":2,"t":2.569,"v":182.3},{"s":"chair","g":2,"t":2.639,"v":182.3},{"s":"chair","g":2,"t":2.708,"v":181.9},{"s":"chair","g":2,"t":2.778,"v":181.9},{"s":"chair","g":2,"t":2.833,"v":181.9},{"s":"chair","g":2,"t":2.875,"v":187},{"s":"chair","g":2,"t":2.917,"v":190.1},{"s":"chair","g":2,"t":2.944,"v":193.2},{"s":"chair","g":2,"t":2.965,"v":198.3},{"s":"chair","g":2,"t":2.979,"v":201.7},{"s":"chair","g":2,"t":2.993,"v":200.3},{"s":"chair","g":2,"t":3.014,"v":199.3},{"s":"chair","g":2,"t":3.056,"v":198.3},{"s":"chair","g":2,"t":3.097,"v":196.6},{"s":"chair","g":2,"t":3.125,"v":194.2},{"s":"chair","g":2,"t":3.153,"v":194.2},{"s":"chair","g":2,"t":3.181,"v":194.6},{"s":"chair","g":2,"t":3.222,"v":196.2},{"s":"chair","g":2,"t":3.278,"v":196.2},{"s":"chair","g":2,"t":3.333,"v":197.2},{"s":"chair","g":2,"t":3.375,"v":198.3},{"s":"chair","g":2,"t":3.431,"v":198.9},{"s":"chair","g":2,"t":3.472,"v":197.2},{"s":"chair","g":2,"t":3.514,"v":194.8},{"s":"chair","g":2,"t":3.556,"v":193.2},{"s":"chair","g":2,"t":3.597,"v":193.2},{"s":"chair","g":2,"t":3.632,"v":191.5},{"s":"chair","g":2,"t":3.708,"v":191.5},{"s":"chair","g":2,"t":3.833,"v":191.5},{"s":"chair","g":2,"t":3.854,"v":192.7},{"s":"chair","g":2,"t":3.875,"v":191.5},{"s":"chair","g":2,"t":4.028,"v":191.5},{"s":"chair","g":2,"t":4.111,"v":193.2},{"s":"chair","g":2,"t":4.146,"v":191.5},{"s":"chair","g":2,"t":4.181,"v":193.2},{"s":"chair","g":2,"t":4.208,"v":191.5},{"s":"chair","g":2,"t":5.0,"v":191.5},{"s":"chair","g":2,"t":5.014,"v":192.7},{"s":"chair","g":2,"t":5.04,"v":191.5},{"s":"chair","g":2,"t":5.299,"v":190.1},{"s":"chair","g":2,"t":5.319,"v":192.7},{"s":"chair","g":2,"t":5.34,"v":191.5},{"s":"chair","g":2,"t":5.444,"v":192.7},{"s":"chair","g":2,"t":5.46,"v":191.5},{"s":"chair","g":2,"t":5.681,"v":191.9},{"s":"chair","g":2,"t":5.701,"v":196.2},{"s":"chair","g":2,"t":5.715,"v":202.3},{"s":"chair","g":2,"t":5.729,"v":191.5},{"s":"chair","g":2,"t":5.875,"v":191.5},{"s":"chair","g":2,"t":5.899,"v":200.3},{"s":"chair","g":2,"t":5.917,"v":191.5},{"s":"chair","g":2,"t":6.0,"v":191.5},
{"s":"person","g":1,"t":0.014,"v":172.7},{"s":"person","g":1,"t":0.031,"v":184},{"s":"person","g":1,"t":0.049,"v":186},{"s":"person","g":1,"t":0.067,"v":188},{"s":"person","g":1,"t":0.083,"v":186},{"s":"person","g":1,"t":0.104,"v":190},{"s":"person","g":1,"t":0.118,"v":190},{"s":"person","g":1,"t":0.139,"v":186},{"s":"person","g":1,"t":0.153,"v":188},{"s":"person","g":1,"t":0.167,"v":199},{"s":"person","g":1,"t":0.188,"v":194},{"s":"person","g":1,"t":0.208,"v":193},{"s":"person","g":1,"t":0.222,"v":202},{"s":"person","g":1,"t":0.243,"v":205},{"s":"person","g":1,"t":0.264,"v":210.5},{"s":"person","g":1,"t":0.292,"v":209.5},{"s":"person","g":1,"t":0.313,"v":204.4},{"s":"person","g":1,"t":0.333,"v":199.3},{"s":"person","g":1,"t":0.358,"v":197.2},{"s":"person","g":1,"t":0.382,"v":205.4},{"s":"person","g":1,"t":0.403,"v":207.5},{"s":"person","g":1,"t":0.424,"v":209.5},{"s":"person","g":1,"t":0.444,"v":204.4},{"s":"person","g":1,"t":0.465,"v":203.4},{"s":"person","g":1,"t":0.493,"v":204.4},{"s":"person","g":1,"t":0.511,"v":212.6},{"s":"person","g":1,"t":0.528,"v":214.6},{"s":"person","g":1,"t":0.542,"v":224.8},{"s":"person","g":1,"t":0.556,"v":214.6},{"s":"person","g":1,"t":0.567,"v":207.5},{"s":"person","g":1,"t":0.576,"v":229.9},{"s":"person","g":1,"t":0.59,"v":213.6},{"s":"person","g":1,"t":0.611,"v":214.6},{"s":"person","g":1,"t":0.639,"v":214.6},{"s":"person","g":1,"t":0.667,"v":215.6},{"s":"person","g":1,"t":0.694,"v":212.6},{"s":"person","g":1,"t":0.722,"v":214.6},{"s":"person","g":1,"t":0.743,"v":212.6},{"s":"person","g":1,"t":0.764,"v":214.6},{"s":"person","g":1,"t":0.775,"v":255.5},{"s":"person","g":1,"t":0.792,"v":255.5},{"s":"person","g":1,"t":0.803,"v":247.3},{"s":"person","g":1,"t":0.813,"v":259.5},{"s":"person","g":1,"t":0.822,"v":257.5},{"s":"person","g":1,"t":0.833,"v":215.6},{"s":"person","g":1,"t":0.861,"v":214.6},{"s":"person","g":1,"t":0.889,"v":215.6},{"s":"person","g":1,"t":0.917,"v":217.7},{"s":"person","g":1,"t":0.944,"v":216.7},{"s":"person","g":1,"t":0.965,"v":228.9},{"s":"person","g":1,"t":1.0,"v":229.9},{"s":"person","g":1,"t":1.042,"v":227.9},{"s":"person","g":1,"t":1.069,"v":229.9},{"s":"person","g":1,"t":1.09,"v":218.7},{"s":"person","g":1,"t":1.118,"v":217.7},{"s":"person","g":1,"t":1.139,"v":217.7},{"s":"person","g":1,"t":1.153,"v":211.5},{"s":"person","g":1,"t":1.174,"v":206.4},{"s":"person","g":1,"t":1.188,"v":214.6},{"s":"person","g":1,"t":1.201,"v":220.7},{"s":"person","g":1,"t":1.222,"v":218.7},{"s":"person","g":1,"t":1.243,"v":216.7},{"s":"person","g":1,"t":1.257,"v":208.5},{"s":"person","g":1,"t":1.271,"v":204.4},{"s":"person","g":1,"t":1.292,"v":204.4},{"s":"person","g":1,"t":1.313,"v":202.3},{"s":"person","g":1,"t":1.326,"v":210.5},{"s":"person","g":1,"t":1.347,"v":214.6},{"s":"person","g":1,"t":1.375,"v":216.7},{"s":"person","g":1,"t":1.403,"v":216.7},{"s":"person","g":1,"t":1.424,"v":209.5},{"s":"person","g":1,"t":1.431,"v":206.4},{"s":"person","g":1,"t":1.458,"v":206.4},{"s":"person","g":1,"t":1.486,"v":205.4},{"s":"person","g":1,"t":1.528,"v":206.4},{"s":"person","g":1,"t":1.556,"v":207.5},{"s":"person","g":1,"t":1.583,"v":208.5},{"s":"person","g":1,"t":1.604,"v":209.5},{"s":"person","g":1,"t":1.625,"v":211.5},{"s":"person","g":1,"t":1.667,"v":211.5},{"s":"person","g":1,"t":1.688,"v":214.6},{"s":"person","g":1,"t":1.708,"v":220.7},{"s":"person","g":1,"t":1.729,"v":223.8},{"s":"person","g":1,"t":1.743,"v":222.8},{"s":"person","g":1,"t":1.757,"v":214.6},{"s":"person","g":1,"t":1.778,"v":212.6},{"s":"person","g":1,"t":1.799,"v":212.6},{"s":"person","g":1,"t":1.819,"v":216.7},{"s":"person","g":1,"t":1.84,"v":219.7},{"s":"person","g":1,"t":1.861,"v":220.7},{"s":"person","g":1,"t":1.875,"v":222.8},{"s":"person","g":1,"t":1.889,"v":219.7},{"s":"person","g":1,"t":1.91,"v":218.7},{"s":"person","g":1,"t":1.931,"v":214.6},{"s":"person","g":1,"t":1.951,"v":212.6},{"s":"person","g":1,"t":1.972,"v":210.5},{"s":"person","g":1,"t":1.993,"v":205.4},{"s":"person","g":1,"t":2.014,"v":203.4},{"s":"person","g":1,"t":2.042,"v":203.4},{"s":"person","g":1,"t":2.063,"v":195.2},{"s":"person","g":1,"t":2.076,"v":193.2},{"s":"person","g":1,"t":2.104,"v":194.2},{"s":"person","g":1,"t":2.122,"v":192.1},{"s":"person","g":1,"t":2.139,"v":189.1},{"s":"person","g":1,"t":2.16,"v":191.1},{"s":"person","g":1,"t":2.201,"v":191.1},{"s":"person","g":1,"t":2.215,"v":189.1},{"s":"person","g":1,"t":2.236,"v":185},{"s":"person","g":1,"t":2.264,"v":184},{"s":"person","g":1,"t":2.292,"v":181.9},{"s":"person","g":1,"t":2.319,"v":179.9},{"s":"person","g":1,"t":2.354,"v":178.9},{"s":"person","g":1,"t":2.382,"v":178.9},{"s":"person","g":1,"t":2.403,"v":190.1},{"s":"person","g":1,"t":2.431,"v":185},{"s":"person","g":1,"t":2.465,"v":180.9},{"s":"person","g":1,"t":2.486,"v":189.1},{"s":"person","g":1,"t":2.507,"v":191.1},{"s":"person","g":1,"t":2.535,"v":192.1},{"s":"person","g":1,"t":2.556,"v":190.1},{"s":"person","g":1,"t":2.583,"v":187},{"s":"person","g":1,"t":2.604,"v":202.3},{"s":"person","g":1,"t":2.625,"v":199.3},{"s":"person","g":1,"t":2.646,"v":195.2},{"s":"person","g":1,"t":2.667,"v":178.9},{"s":"person","g":1,"t":2.688,"v":176.8},{"s":"person","g":1,"t":2.715,"v":178.9},{"s":"person","g":1,"t":2.75,"v":178.9},{"s":"person","g":1,"t":2.764,"v":193.2},{"s":"person","g":1,"t":2.778,"v":196.2},{"s":"person","g":1,"t":2.794,"v":190.1},{"s":"person","g":1,"t":2.813,"v":178.9},{"s":"person","g":1,"t":2.833,"v":196.2},{"s":"person","g":1,"t":2.854,"v":194.2},{"s":"person","g":1,"t":2.875,"v":185},{"s":"person","g":1,"t":2.903,"v":179.9},{"s":"person","g":1,"t":2.931,"v":178.9},{"s":"person","g":1,"t":2.965,"v":175.8},{"s":"person","g":1,"t":3.0,"v":178.9},{"s":"person","g":1,"t":3.021,"v":185},{"s":"person","g":1,"t":3.049,"v":182.9},{"s":"person","g":1,"t":3.076,"v":181.9},{"s":"person","g":1,"t":3.104,"v":180.9},{"s":"person","g":1,"t":3.125,"v":179.9},{"s":"person","g":1,"t":3.153,"v":178.9},{"s":"person","g":1,"t":3.181,"v":176.8},{"s":"person","g":1,"t":3.208,"v":175.8},{"s":"person","g":1,"t":3.229,"v":173.7},{"s":"person","g":1,"t":3.25,"v":168.6},{"s":"person","g":1,"t":3.285,"v":166.6},{"s":"person","g":1,"t":3.319,"v":164.5},{"s":"person","g":1,"t":3.354,"v":162.5},{"s":"person","g":1,"t":3.389,"v":161.5},{"s":"person","g":1,"t":3.417,"v":161.5},{"s":"person","g":1,"t":3.444,"v":160.5},{"s":"person","g":1,"t":3.472,"v":160.5},{"s":"person","g":1,"t":3.5,"v":159.4},{"s":"person","g":1,"t":3.528,"v":157.4},{"s":"person","g":1,"t":3.549,"v":155.4},{"s":"person","g":1,"t":3.563,"v":149.2},{"s":"person","g":1,"t":3.583,"v":146.2},{"s":"person","g":1,"t":3.597,"v":145.1},{"s":"person","g":1,"t":3.611,"v":137},{"s":"person","g":1,"t":3.632,"v":136},{"s":"person","g":1,"t":3.653,"v":133.9},{"s":"person","g":1,"t":3.674,"v":130.8},{"s":"person","g":1,"t":3.701,"v":129.8},{"s":"person","g":1,"t":3.729,"v":128.8},{"s":"person","g":1,"t":3.75,"v":124.7},{"s":"person","g":1,"t":3.785,"v":124.7},{"s":"person","g":1,"t":3.826,"v":125.7},{"s":"person","g":1,"t":3.847,"v":123.7},{"s":"person","g":1,"t":3.868,"v":124.7},{"s":"person","g":1,"t":3.889,"v":121.6},{"s":"person","g":1,"t":3.91,"v":123.7},{"s":"person","g":1,"t":3.931,"v":128.8},{"s":"person","g":1,"t":3.965,"v":129.8},{"s":"person","g":1,"t":3.993,"v":126.8},{"s":"person","g":1,"t":4.028,"v":123.7},{"s":"person","g":1,"t":4.056,"v":120.6},{"s":"person","g":1,"t":4.076,"v":119.6},{"s":"person","g":1,"t":4.09,"v":116.5},{"s":"person","g":1,"t":4.111,"v":118.6},{"s":"person","g":1,"t":4.139,"v":116.5},{"s":"person","g":1,"t":4.174,"v":117.5},{"s":"person","g":1,"t":4.201,"v":114.5},{"s":"person","g":1,"t":4.215,"v":101.2},{"s":"person","g":1,"t":4.236,"v":98.2},{"s":"person","g":1,"t":4.257,"v":95.1},{"s":"person","g":1,"t":4.285,"v":98.2},{"s":"person","g":1,"t":4.313,"v":97.1},{"s":"person","g":1,"t":4.347,"v":95.1},{"s":"person","g":1,"t":4.382,"v":92},{"s":"person","g":1,"t":4.417,"v":91},{"s":"person","g":1,"t":4.438,"v":96.1},{"s":"person","g":1,"t":4.472,"v":94.1},{"s":"person","g":1,"t":4.514,"v":93.1},{"s":"person","g":1,"t":4.549,"v":90},{"s":"person","g":1,"t":4.583,"v":88.3},{"s":"person","g":1,"t":4.625,"v":88.3},{"s":"person","g":1,"t":4.66,"v":86.9},{"s":"person","g":1,"t":4.701,"v":85.9},{"s":"person","g":1,"t":4.75,"v":87.9},{"s":"person","g":1,"t":4.806,"v":87.9},{"s":"person","g":1,"t":4.84,"v":82.8},{"s":"person","g":1,"t":4.889,"v":82.8},{"s":"person","g":1,"t":4.938,"v":82.8},{"s":"person","g":1,"t":4.986,"v":86.9},{"s":"person","g":1,"t":5.028,"v":86.9},{"s":"person","g":1,"t":5.069,"v":86.9},{"s":"person","g":1,"t":5.111,"v":86.9},{"s":"person","g":1,"t":5.153,"v":84.9},{"s":"person","g":1,"t":5.194,"v":84.9},{"s":"person","g":1,"t":5.236,"v":83.9},{"s":"person","g":1,"t":5.278,"v":82.8},{"s":"person","g":1,"t":5.319,"v":81.8},{"s":"person","g":1,"t":5.361,"v":78.7},{"s":"person","g":1,"t":5.403,"v":77.7},{"s":"person","g":1,"t":5.444,"v":77.7},{"s":"person","g":1,"t":5.479,"v":77.7},{"s":"person","g":1,"t":5.514,"v":74.7},{"s":"person","g":1,"t":5.549,"v":71.6},{"s":"person","g":1,"t":5.59,"v":69.5},{"s":"person","g":1,"t":5.625,"v":67.9},{"s":"person","g":1,"t":5.66,"v":67.5},{"s":"person","g":1,"t":5.688,"v":66.5},{"s":"person","g":1,"t":5.697,"v":57.3},{"s":"person","g":1,"t":5.715,"v":55.3},{"s":"person","g":1,"t":5.736,"v":58.3},{"s":"person","g":1,"t":5.757,"v":66.5},{"s":"person","g":1,"t":5.778,"v":65.5},{"s":"person","g":1,"t":5.799,"v":66.5},{"s":"person","g":1,"t":5.826,"v":67.5},{"s":"person","g":1,"t":5.854,"v":69.5},{"s":"person","g":1,"t":5.882,"v":71.6},{"s":"person","g":1,"t":5.903,"v":71.6},{"s":"person","g":1,"t":5.919,"v":79.8},{"s":"person","g":1,"t":5.938,"v":81.8},{"s":"person","g":1,"t":5.956,"v":72.6},{"s":"person","g":1,"t":5.972,"v":77.7},{"s":"person","g":1,"t":5.986,"v":81.8},{"s":"person","g":1,"t":6.0,"v":82.8}
]
},
"vconcat":[
{
"width":1421,"height":480,
"title":{"text":"a","anchor":"start","frame":"group","fontSize":46,"fontWeight":"bold","baseline":"alphabetic","offset":-91.7,"dx":-161.3},
"data":{"name":"a"},
"mark":{"type":"line","strokeWidth":4.5,"strokeJoin":"round","strokeCap":"round"},
"encoding":{
"x":{"field":"t","type":"quantitative","scale":{"domain":[0,6],"nice":false,"zero":false},"axis":{"values":[0,1,2,3,4,5,6],"title":"time [s]","labelPadding":29,"titleX":710.5,"titleY":107,"titleBaseline":"alphabetic"}},
"y":{"field":"v","type":"quantitative","scale":{"domain":[0,6000],"nice":false},"axis":{"values":[0,1000,2000,3000,4000,5000,6000],"format":"d","title":"decoded area [pixel]","labelPadding":33,"titleX":-141.5,"titleY":240,"titleBaseline":"middle","titleAngle":270}},
"color":{"field":"s","type":"nominal","scale":{"domain":["umbrella","chair","person"],"range":["#00B050","#ED7D31","#FF0000"]},"legend":{"orient":"none","legendX":665.2,"legendY":-65.5,"direction":"horizontal","title":null,"symbolType":"stroke","symbolSize":3481,"symbolStrokeWidth":4.5,"labelOffset":4.5,"columnPadding":34.5}},
"detail":{"field":"g","type":"nominal"}
}
},
{
"width":1440,"height":489,
"title":{"text":"b","anchor":"start","frame":"group","fontSize":46,"fontWeight":"bold","baseline":"alphabetic","offset":-115.7,"dx":-152.3},
"data":{"name":"b"},
"mark":{"type":"line","strokeJoin":"round","strokeCap":"round"},
"encoding":{
"x":{"field":"t","type":"quantitative","scale":{"domain":[0,6],"nice":false,"zero":false},"axis":{"values":[0,1,2,3,4,5,6],"title":"time [s]","labelPadding":29,"titleX":720,"titleY":108,"titleBaseline":"alphabetic"}},
"y":{"field":"v","type":"quantitative","scale":{"domain":[0,300],"nice":false},"axis":{"values":[0,50,100,150,200,250,300],"format":"d","title":"position [pixel]","labelPadding":33,"titleX":-120,"titleY":244.5,"titleBaseline":"middle","titleAngle":270}},
"color":{"field":"s","type":"nominal","scale":{"domain":["umbrella","chair","person"],"range":["#548235","#ED7D31","#FF0000"]},"legend":{"orient":"none","legendX":616.7,"legendY":-75.8,"direction":"horizontal","title":null,"symbolType":"stroke","symbolSize":4225,"symbolStrokeWidth":6,"labelOffset":2,"labelFontSize":37.5,"columnPadding":59}},
"strokeWidth":{"field":"s","type":"nominal","scale":{"domain":["umbrella","chair","person"],"range":[5,5,6]},"legend":null},
"detail":{"field":"g","type":"nominal"}
}
}
],
"spacing":253.3,
"bounds":"flush",
"center":true,
"resolve":{"scale":{"color":"independent","strokeWidth":"independent"},"legend":{"color":"independent"}}
}
